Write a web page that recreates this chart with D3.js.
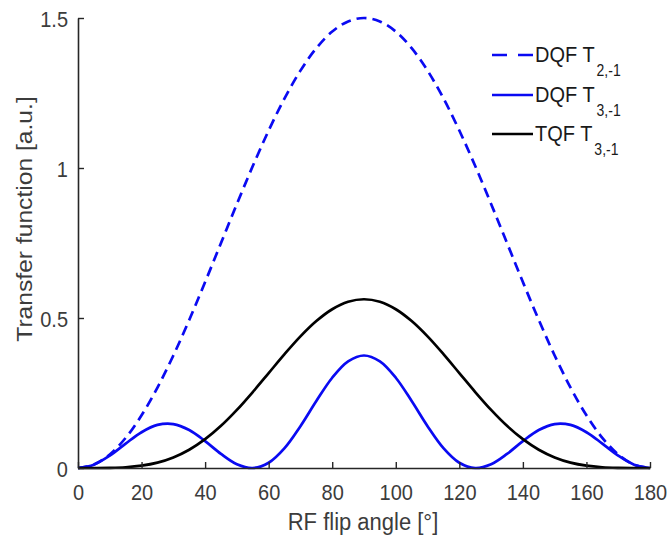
<!DOCTYPE html>
<html>
<head>
<meta charset="utf-8">
<script src="https://cdn.jsdelivr.net/npm/d3@7"></script>
<style>
  html, body { margin: 0; padding: 0; background: #ffffff; }
  svg { display: block; font-family: "Liberation Sans", Arial, Helvetica, sans-serif; }
</style>
</head>
<body>
<svg id="chart" width="669" height="536"></svg>
<script>
// ---------- data ----------
const angles = [0, 5, 10, 15, 20, 25, 30, 35, 40, 45, 50, 55, 60, 65, 70, 75, 80, 85, 90,
  95, 100, 105, 110, 115, 120, 125, 130, 135, 140, 145, 150, 155, 160, 165, 170, 175, 180];

const dqfT2 = [0, 0.0114, 0.0452, 0.1005, 0.1755, 0.2679, 0.375, 0.4935, 0.6198, 0.75, 0.8802,
  1.0065, 1.125, 1.2321, 1.3245, 1.3995, 1.4548, 1.4886, 1.5, 1.4886, 1.4548, 1.3995, 1.3245,
  1.2321, 1.125, 1.0065, 0.8802, 0.75, 0.6198, 0.4935, 0.375, 0.2679, 0.1755, 0.1005, 0.0452, 0.0114, 0];

const dqfT3 = [0, 0.0111, 0.0412, 0.0813, 0.1193, 0.1436, 0.1465, 0.1266, 0.0896, 0.0469, 0.0126,
  0.0000, 0.0176, 0.0664, 0.1395, 0.2234, 0.3009, 0.3554, 0.375, 0.3554, 0.3009, 0.2234, 0.1395,
  0.0664, 0.0176, 0.0000, 0.0126, 0.0469, 0.0896, 0.1266, 0.1465, 0.1436, 0.1193, 0.0813, 0.0412, 0.0111, 0];

const tqfT3 = [0, 0.0000, 0.0005, 0.0025, 0.0077, 0.0179, 0.0352, 0.0609, 0.0960, 0.1406, 0.1937,
  0.2533, 0.3164, 0.3795, 0.4386, 0.4897, 0.5291, 0.5540, 0.5625, 0.5540, 0.5291, 0.4897, 0.4386,
  0.3795, 0.3164, 0.2533, 0.1937, 0.1406, 0.0960, 0.0609, 0.0352, 0.0179, 0.0077, 0.0025, 0.0005, 0.0000, 0];

const xTicks = [0, 20, 40, 60, 80, 100, 120, 140, 160, 180];
const yTicks = [0, 0.5, 1, 1.5];
const yTickLabels = ["0", "0.5", "1", "1.5"];

const seriesNames = ["DQF T", "DQF T", "TQF T"];
const seriesSubs = ["2,-1", "3,-1", "3,-1"];

const xLabel = "RF flip angle [°]";
const yLabel = "Transfer function [a.u.]";

// ---------- drawing ----------
const svg = d3.select("#chart");
const STR = 1.12;          // vertical stretch of the reference image text
const axisColor = "#262626";
const textColor = "#3c3c3c";
const blue = "#0a0af2";

const x = d3.scaleLinear().domain([0, 180]).range([78, 650]);
const y = d3.scaleLinear().domain([0, 1.5]).range([468, 18]);

const series = [
  { values: dqfT2, color: blue, dash: "10,6" },
  { values: dqfT3, color: blue, dash: null },
  { values: tqfT3, color: "#000000", dash: null }
];

const line = d3.line()
  .x(d => x(d[0]))
  .y(d => y(d[1]))
  .curve(d3.curveCatmullRom.alpha(0.5));

const plot = svg.append("g");
series.forEach(s => {
  plot.append("path")
    .datum(angles.map((a, i) => [a, s.values[i]]))
    .attr("d", line)
    .attr("fill", "none")
    .attr("stroke", s.color)
    .attr("stroke-width", 2.7)
    .attr("stroke-dasharray", s.dash)
    .attr("stroke-linejoin", "round");
});

// x axis
const gx = svg.append("g")
  .attr("transform", `translate(0,${y(0)})`)
  .call(d3.axisBottom(x).tickValues(xTicks).tickSize(-6).tickSizeOuter(0).tickFormat(d3.format("d")));
gx.select(".domain").attr("stroke", axisColor).attr("stroke-width", 1.6);
gx.selectAll(".tick line").attr("stroke", axisColor).attr("stroke-width", 1.4);
gx.selectAll(".tick text")
  .attr("y", 0).attr("dy", 0)
  .attr("transform", `translate(0,32) scale(1,${STR})`)
  .attr("fill", textColor)
  .style("font-size", "20px")
  .style("font-family", "'Liberation Sans', Arial, sans-serif");

// y axis
const gy = svg.append("g")
  .attr("transform", `translate(${x(0)},0)`)
  .call(d3.axisLeft(y).tickValues(yTicks).tickSize(-6).tickSizeOuter(0)
    .tickFormat((d, i) => yTickLabels[i]));
gy.select(".domain").attr("stroke", axisColor).attr("stroke-width", 1.6);
gy.selectAll(".tick line").attr("stroke", axisColor).attr("stroke-width", 1.4);
gy.selectAll(".tick text")
  .attr("x", 0).attr("dy", 0)
  .attr("text-anchor", "end")
  .attr("transform", `translate(-10,8) scale(1,${STR})`)
  .attr("fill", textColor)
  .style("font-size", "20px")
  .style("font-family", "'Liberation Sans', Arial, sans-serif");

// axis labels
svg.append("text")
  .attr("transform", `translate(363,530) scale(1,${STR})`)
  .attr("text-anchor", "middle")
  .attr("fill", textColor)
  .style("font-size", "22px")
  .text(xLabel);

svg.append("text")
  .attr("transform", `translate(32,219) scale(1,${STR}) rotate(-90)`)
  .attr("text-anchor", "middle")
  .attr("fill", textColor)
  .style("font-size", "22px")
  .text(yLabel);

// legend
const legendY = [55, 95, 134];
const legendDash = ["15,11", null, null];
const lg = svg.append("g");
series.forEach((s, i) => {
  lg.append("line")
    .attr("x1", 492).attr("x2", 533)
    .attr("y1", legendY[i]).attr("y2", legendY[i])
    .attr("stroke", s.color)
    .attr("stroke-width", 2.7)
    .attr("stroke-dasharray", legendDash[i]);
  const t = lg.append("text")
    .attr("transform", `translate(535,${legendY[i] + 7}) scale(1,${STR})`)
    .attr("fill", "#1a1a1a")
    .style("font-size", "20px");
  t.append("tspan").text(seriesNames[i]);
  t.append("tspan")
    .attr("dx", 2)
    .attr("dy", 12.5)
    .style("font-size", "14px")
    .text(seriesSubs[i]);
});
</script>
</body>
</html>
